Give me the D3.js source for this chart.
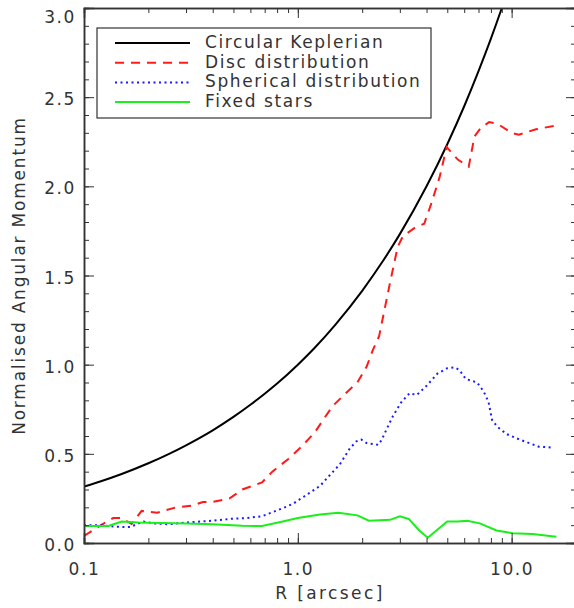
<!DOCTYPE html>
<html>
<head>
<meta charset="utf-8">
<script src="https://cdn.jsdelivr.net/npm/d3@7"></script>
<style>
  body { margin: 0; background: #fff; }
  text { font-family: "DejaVu Sans ExtraLight", "DejaVu Sans", sans-serif; fill: #333; }
</style>
</head>
<body>
<svg width="574" height="608"></svg>
<script>
const svg = d3.select("svg")

// data (R in arcsec, normalised angular momentum)
const keplerR = [0.1, 0.12, 0.15, 0.2, 0.25, 0.3, 0.4, 0.5, 0.6, 0.7, 0.8, 1.0, 1.2, 1.5, 2.0, 2.5, 3.0, 4.0, 5.0, 6.0, 7.0, 8.0, 9.0, 10.0]
const keplerV = [0.316, 0.346, 0.387, 0.447, 0.500, 0.548, 0.632, 0.707, 0.775, 0.837, 0.894, 1.000, 1.095, 1.225, 1.414, 1.581, 1.732, 2.000, 2.236, 2.449, 2.646, 2.828, 3.000, 3.162]

const discR = [0.1, 0.12, 0.137, 0.15, 0.167, 0.186, 0.22, 0.27, 0.32, 0.36, 0.40, 0.48, 0.55, 0.68, 0.76, 0.9, 1.04, 1.2, 1.33, 1.46, 1.71, 1.9, 2.1, 2.24, 2.4, 2.7, 2.93, 3.1, 3.55, 3.9, 4.2, 4.6, 4.97, 5.6, 6.3, 6.7, 7.2, 7.85, 8.6, 10.0, 10.8, 13.0, 16.0]
const discV = [0.04, 0.10, 0.14, 0.14, 0.107, 0.18, 0.17, 0.20, 0.21, 0.23, 0.23, 0.25, 0.30, 0.34, 0.40, 0.47, 0.54, 0.62, 0.70, 0.77, 0.85, 0.90, 0.99, 1.08, 1.16, 1.46, 1.66, 1.72, 1.77, 1.79, 1.90, 2.05, 2.22, 2.15, 2.11, 2.28, 2.33, 2.36, 2.35, 2.30, 2.29, 2.32, 2.34]

const spherR = [0.1, 0.12, 0.13, 0.15, 0.165, 0.18, 0.19, 0.21, 0.25, 0.3, 0.35, 0.4, 0.48, 0.58, 0.68, 0.75, 0.85, 0.95, 1.1, 1.27, 1.41, 1.57, 1.75, 1.88, 1.98, 2.1, 2.38, 2.47, 2.63, 2.78, 3.05, 3.33, 3.6, 3.99, 4.5, 5.0, 5.4, 5.7, 6.1, 6.9, 7.4, 7.8, 8.1, 8.6, 9.5, 10.9, 12.1, 13.4, 15.8]
const spherV = [0.10, 0.10, 0.095, 0.09, 0.09, 0.11, 0.12, 0.11, 0.105, 0.115, 0.12, 0.125, 0.135, 0.14, 0.15, 0.17, 0.195, 0.22, 0.27, 0.32, 0.38, 0.44, 0.53, 0.57, 0.58, 0.56, 0.55, 0.58, 0.65, 0.71, 0.79, 0.84, 0.83, 0.88, 0.95, 0.98, 0.985, 0.97, 0.92, 0.90, 0.85, 0.79, 0.69, 0.65, 0.61, 0.58, 0.56, 0.54, 0.535]

const fixedR = [0.1, 0.13, 0.15, 0.18, 0.3, 0.4, 0.55, 0.68, 0.85, 1.0, 1.27, 1.55, 1.9, 2.15, 2.7, 3.0, 3.3, 3.7, 4.05, 5.0, 5.6, 6.2, 7.1, 8.5, 10.1, 12.5, 16.2]
const fixedV = [0.095, 0.095, 0.12, 0.115, 0.11, 0.105, 0.097, 0.095, 0.12, 0.14, 0.16, 0.17, 0.155, 0.125, 0.13, 0.15, 0.135, 0.07, 0.03, 0.12, 0.12, 0.125, 0.11, 0.07, 0.055, 0.05, 0.035]

const legendLabels = ["Circular Keplerian", "Disc distribution", "Spherical distribution", "Fixed stars"]
const xTickValues = [0.1, 1, 10]
const xTickLabels = ["0.1", "1.0", "10.0"]
const yTickValues = [0, 0.5, 1, 1.5, 2, 2.5, 3]

const mLeft = 84, mRight = 576, mTop = 8, mBottom = 543
const fontSize = "17px"
const spacing = "1.6px"

const x = d3.scaleLog().domain([0.1, 20]).range([mLeft, mRight])
const y = d3.scaleLinear().domain([0, 3]).range([mBottom, mTop])

const series = [
  { R: keplerR, V: keplerV, color: "#000", dash: null, curve: d3.curveMonotoneX },
  { R: discR, V: discV, color: "#ff1a1a", dash: "9,7", curve: d3.curveLinear },
  { R: spherR, V: spherV, color: "#1a1aff", dash: "2,3.5", curve: d3.curveLinear },
  { R: fixedR, V: fixedV, color: "#1aef1a", dash: null, curve: d3.curveLinear }
]

svg.append("clipPath").attr("id", "clip")
  .append("rect")
  .attr("x", mLeft).attr("y", mTop)
  .attr("width", mRight - mLeft).attr("height", mBottom - mTop)

const plot = svg.append("g").attr("clip-path", "url(#clip)")

series.forEach(s => {
  const line = d3.line()
    .x(d => x(d[0]))
    .y(d => y(d[1]))
    .curve(s.curve)
  plot.append("path")
    .datum(s.R.map((r, j) => [r, s.V[j]]))
    .attr("fill", "none")
    .attr("stroke", s.color)
    .attr("stroke-width", 2)
    .attr("stroke-dasharray", s.dash)
    .attr("d", line)
})

// axes, ticks on all four sides
const minorX = []
for (let k = -1; k <= 1; k++) for (let m = 1; m <= 9; m++) {
  const v = m * Math.pow(10, k)
  if (v <= 20) minorX.push(v)
}
const minorY = d3.range(0, 3.01, 0.1)

const axisColor = "#333"

svg.append("g").attr("transform", `translate(0,${mBottom})`)
  .call(d3.axisBottom(x).tickValues(minorX).tickSize(-5).tickFormat(""))
svg.append("g").attr("class", "xlab").attr("transform", `translate(0,${mBottom})`)
  .call(d3.axisBottom(x).tickValues(xTickValues).tickSize(-10)
    .tickFormat((d, i) => xTickLabels[i]).tickPadding(20))
svg.append("g").attr("transform", `translate(0,${mTop})`)
  .call(d3.axisTop(x).tickValues(minorX).tickSize(-5).tickFormat(""))
svg.append("g").attr("transform", `translate(0,${mTop})`)
  .call(d3.axisTop(x).tickValues(xTickValues).tickSize(-10).tickFormat(""))

svg.append("g").attr("transform", `translate(${mLeft},0)`)
  .call(d3.axisLeft(y).tickValues(minorY).tickSize(-5).tickFormat(""))
svg.append("g").attr("class", "ylab").attr("transform", `translate(${mLeft},0)`)
  .call(d3.axisLeft(y).tickValues(yTickValues).tickSize(-10).tickFormat(d3.format(".1f")).tickPadding(8))
svg.append("g").attr("transform", `translate(${mRight},0)`)
  .call(d3.axisRight(y).tickValues(minorY).tickSize(-5).tickFormat(""))
svg.append("g").attr("transform", `translate(${mRight},0)`)
  .call(d3.axisRight(y).tickValues(yTickValues).tickSize(-10).tickFormat(""))

svg.selectAll(".domain").attr("stroke", axisColor).attr("stroke-width", 1.5)
svg.selectAll(".tick line").attr("stroke", axisColor)
svg.selectAll(".tick text")
  .attr("fill", "#333")
  .style("font-size", fontSize)
  .style("letter-spacing", spacing)
  .style("font-family", null)
svg.selectAll(".ylab .tick text")
  .attr("dy", d => d === 3 ? "0.85em" : "0.45em")

svg.append("text")
  .attr("x", (mLeft + mRight) / 2).attr("y", 599)
  .attr("text-anchor", "middle")
  .style("font-size", fontSize)
  .style("letter-spacing", "2.4px")
  .text("R [arcsec]")

svg.append("text")
  .attr("transform", `translate(25,${(mTop + mBottom) / 2}) rotate(-90)`)
  .attr("text-anchor", "middle")
  .style("font-size", fontSize)
  .style("letter-spacing", "1.8px")
  .text("Normalised Angular Momentum")

// legend
const legend = svg.append("g")
legend.append("rect")
  .attr("x", 97).attr("y", 28).attr("width", 334).attr("height", 90)
  .attr("fill", "#fff").attr("stroke", axisColor).attr("stroke-width", 1.2)

legendLabels.forEach((lab, i) => {
  const ly = 43 + i * 19.7
  legend.append("line")
    .attr("x1", 115).attr("x2", 190).attr("y1", ly).attr("y2", ly)
    .attr("stroke", series[i].color).attr("stroke-width", 2)
    .attr("stroke-dasharray", series[i].dash)
  legend.append("text")
    .attr("x", 205).attr("y", ly + 5)
    .style("font-size", fontSize)
    .style("letter-spacing", spacing)
    .text(lab)
})
</script>
</body>
</html>
